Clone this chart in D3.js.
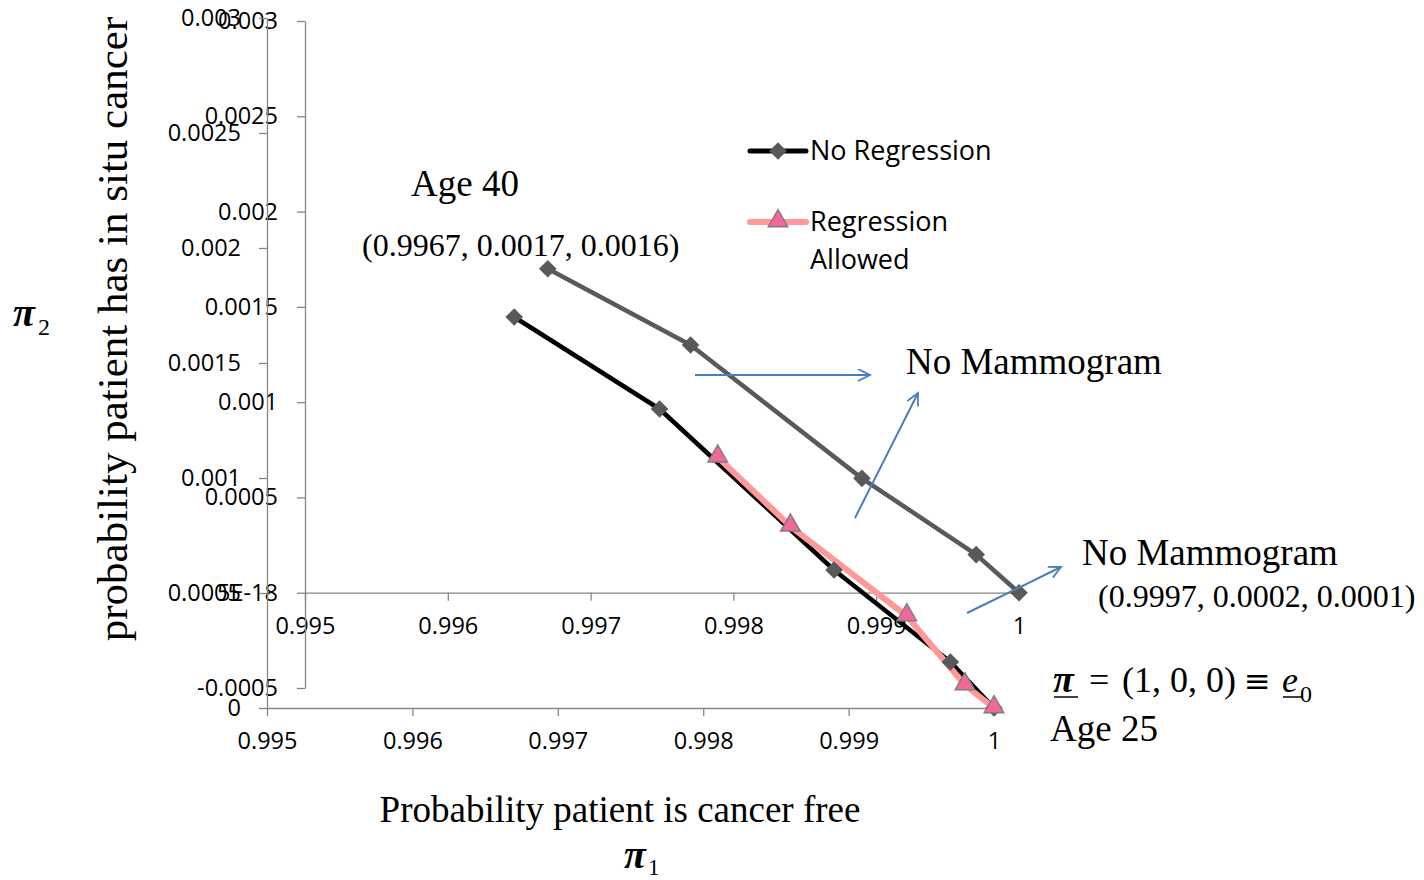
<!DOCTYPE html>
<html>
<head>
<meta charset="utf-8">
<script src="https://cdn.jsdelivr.net/npm/d3@7"></script>
<style>
body { margin: 0; background: #fff; }
.axis path, .axis line { stroke: #868686; stroke-width: 1.3; }
.axis text { font-family: "Open Sans"; font-size: 23.5px; fill: #000; }
.serif { font-family: "Liberation Serif"; fill: #000; }
.legend { font-family: "Open Sans"; font-size: 27px; fill: #000; }
</style>
</head>
<body>
<svg width="1424" height="880"></svg>
<script>
// probability cancer free (x) vs probability of in situ cancer (y)
let noRegX = [0.9967, 0.9977, 0.9989, 0.9997, 1]
let noRegY = [0.0017, 0.0013, 0.0006, 0.0002, 0]
let regX = [0.9981, 0.9986, 0.9994, 0.9998, 1]
let regY = [0.00109, 0.00079, 0.0004, 0.0001, 0]
// second (overlaid) chart, no mammogram path
let noMamX = [0.9967, 0.9977, 0.9989, 0.9997, 1]
let noMamY = [0.0017, 0.0013, 0.0006, 0.0002, 0]

let xTicks = [0.995, 0.996, 0.997, 0.998, 0.999, 1]
let xTickLabels = ['0.995', '0.996', '0.997', '0.998', '0.999', '1']
let yTicksA = [0, 0.0005, 0.001, 0.0015, 0.002, 0.0025, 0.003]
let yTickLabelsA = ['0', '0.0005', '0.001', '0.0015', '0.002', '0.0025', '0.003']
let yTicksB = [-0.0005, 0, 0.0005, 0.001, 0.0015, 0.002, 0.0025, 0.003]
let yTickLabelsB = ['-0.0005', '5E-18', '0.0005', '0.001', '0.0015', '0.002', '0.0025', '0.003']

let svg = d3.select('svg')

// chart A (back) and chart B (offset copy on top)
let xA = d3.scaleLinear().domain([0.995, 1]).range([267, 994])
let yA = d3.scaleLinear().domain([0, 0.003]).range([708, 18])
let xB = d3.scaleLinear().domain([0.995, 1]).range([305, 1019])
let yB = d3.scaleLinear().domain([-0.0005, 0.003]).range([688, 21])

function fmt(labels) { return (d, i) => labels[i] }

svg.append('g').attr('class', 'axis')
  .attr('transform', 'translate(0,' + yB(0) + ')')
  .call(d3.axisBottom(xB).tickValues(xTicks).tickFormat(fmt(xTickLabels)).tickSize(8).tickSizeOuter(0).tickPadding(17))
svg.append('g').attr('class', 'axis')
  .attr('transform', 'translate(' + xB(0.995) + ',0)')
  .call(d3.axisLeft(yB).tickValues(yTicksB).tickFormat(fmt(yTickLabelsB)).tickSize(8).tickSizeOuter(0).tickPadding(19))

svg.append('g').attr('class', 'axis')
  .attr('transform', 'translate(0,' + yA(0) + ')')
  .call(d3.axisBottom(xA).tickValues(xTicks).tickFormat(fmt(xTickLabels)).tickSize(8).tickSizeOuter(0).tickPadding(16))
svg.append('g').attr('class', 'axis')
  .attr('transform', 'translate(' + xA(0.995) + ',0)')
  .call(d3.axisLeft(yA).tickValues(yTicksA).tickFormat(fmt(yTickLabelsA)).tickSize(8).tickSizeOuter(0).tickPadding(18))

svg.selectAll('.axis .domain').attr('fill', 'none')

let diamond = d3.symbol().type(d3.symbolSquare).size(155)
let triangle = d3.symbol().type(d3.symbolTriangle).size(165)

function series(xs, ys, x, y, color, width) {
  let pts = xs.map((d, i) => [x(d), y(ys[i])])
  svg.append('path')
    .attr('d', d3.line()(pts))
    .attr('fill', 'none')
    .attr('stroke', color)
    .attr('stroke-width', width)
    .attr('stroke-linejoin', 'round')
  return pts
}

let mamPts = series(noMamX, noMamY, xB, yB, '#595959', 4.5)
svg.append('g').selectAll('path').data(mamPts).enter().append('path')
  .attr('d', diamond)
  .attr('transform', d => 'translate(' + d[0] + ',' + d[1] + ') rotate(45)')
  .attr('fill', '#595959')

// blue annotation arrows
svg.append('defs').append('marker')
  .attr('id', 'arr')
  .attr('markerUnits', 'userSpaceOnUse')
  .attr('markerWidth', 16).attr('markerHeight', 16)
  .attr('refX', 13).attr('refY', 6)
  .attr('orient', 'auto')
  .append('path')
  .attr('d', 'M1,0 L13,6 L1,12')
  .attr('fill', 'none')
  .attr('stroke', '#4a7ebb')
  .attr('stroke-width', 1.8)

let arrows = [
  [695, 375, 870, 375],
  [855, 518, 918, 393],
  [967, 613, 1061, 567]
]
svg.append('g').selectAll('line').data(arrows).enter().append('line')
  .attr('x1', d => d[0]).attr('y1', d => d[1])
  .attr('x2', d => d[2]).attr('y2', d => d[3])
  .attr('stroke', '#4a7ebb')
  .attr('stroke-width', 2)
  .attr('marker-end', 'url(#arr)')

let noRegPts = series(noRegX, noRegY, xA, yA, '#000', 4.5)
let regPts = series(regX, regY, xA, yA, '#ff9999', 6)

svg.append('g').selectAll('path').data(noRegPts).enter().append('path')
  .attr('d', diamond)
  .attr('transform', d => 'translate(' + d[0] + ',' + d[1] + ') rotate(45)')
  .attr('fill', '#595959')
svg.append('g').selectAll('path').data(regPts).enter().append('path')
  .attr('d', triangle)
  .attr('transform', d => 'translate(' + d[0] + ',' + (d[1] - 1) + ')')
  .attr('fill', '#f5679b')
  .attr('stroke', '#7f7f7f')
  .attr('stroke-width', 1.5)

// legend
let lg = svg.append('g')
lg.append('line').attr('x1', 750).attr('x2', 806).attr('y1', 151).attr('y2', 151)
  .attr('stroke', '#000').attr('stroke-width', 5).attr('stroke-linecap', 'round')
lg.append('path').attr('d', diamond).attr('transform', 'translate(778,151) rotate(45)').attr('fill', '#595959')
lg.append('line').attr('x1', 750).attr('x2', 806).attr('y1', 222).attr('y2', 222)
  .attr('stroke', '#ff9999').attr('stroke-width', 6).attr('stroke-linecap', 'round')
lg.append('path').attr('d', triangle).attr('transform', 'translate(778,221)')
  .attr('fill', '#f5679b').attr('stroke', '#7f7f7f').attr('stroke-width', 1.5)
lg.append('text').attr('class', 'legend').attr('x', 810).attr('y', 160).text('No Regression')
lg.append('text').attr('class', 'legend').attr('x', 810).attr('y', 231).text('Regression')
lg.append('text').attr('class', 'legend').attr('x', 810).attr('y', 269).text('Allowed')

// annotations
function label(x, y, size, txt, style, weight) {
  return svg.append('text').attr('class', 'serif')
    .attr('x', x).attr('y', y)
    .style('font-size', size + 'px')
    .style('font-style', style || 'normal')
    .style('font-weight', weight || 'normal')
    .text(txt)
}

label(411, 196, 37, 'Age 40')
label(362, 256, 32, '(0.9967, 0.0017, 0.0016)')
label(906, 374, 37, 'No Mammogram')
label(1082, 565, 37, 'No Mammogram')
label(1098, 607, 32, '(0.9997, 0.0002, 0.0001)')
label(1050, 741, 37, 'Age 25')

// pi = (1,0,0) = e0
label(1053, 692, 38, 'π', 'italic', 'bold')
label(1089, 692, 36, '=')
label(1122, 692, 36, '(1, 0, 0)')
svg.append('text').attr('x', 1244).attr('y', 692)
  .style('font-family', 'DejaVu Serif').style('font-size', '32px').text('≡')
label(1282, 692, 36, 'e', 'italic')
label(1300, 702, 24, '0')
svg.append('line').attr('x1', 1054).attr('x2', 1078).attr('y1', 697).attr('y2', 697).attr('stroke', '#000').attr('stroke-width', 1.5)
svg.append('line').attr('x1', 1283).attr('x2', 1303).attr('y1', 697).attr('y2', 697).attr('stroke', '#000').attr('stroke-width', 1.5)

// axis titles
svg.append('text').attr('class', 'serif')
  .attr('x', 620).attr('y', 822)
  .attr('text-anchor', 'middle')
  .style('font-size', '37px')
  .text('Probability patient is cancer free')
label(624, 868, 40, 'π', 'italic', 'bold')
label(648, 875, 23, '1')

svg.append('text').attr('class', 'serif')
  .attr('transform', 'translate(127,329) rotate(-90)')
  .attr('text-anchor', 'middle')
  .style('font-size', '43px')
  .text('probability patient has in situ cancer')
label(13, 326, 40, 'π', 'italic', 'bold')
label(38, 335, 24, '2')
</script>
</body>
</html>
